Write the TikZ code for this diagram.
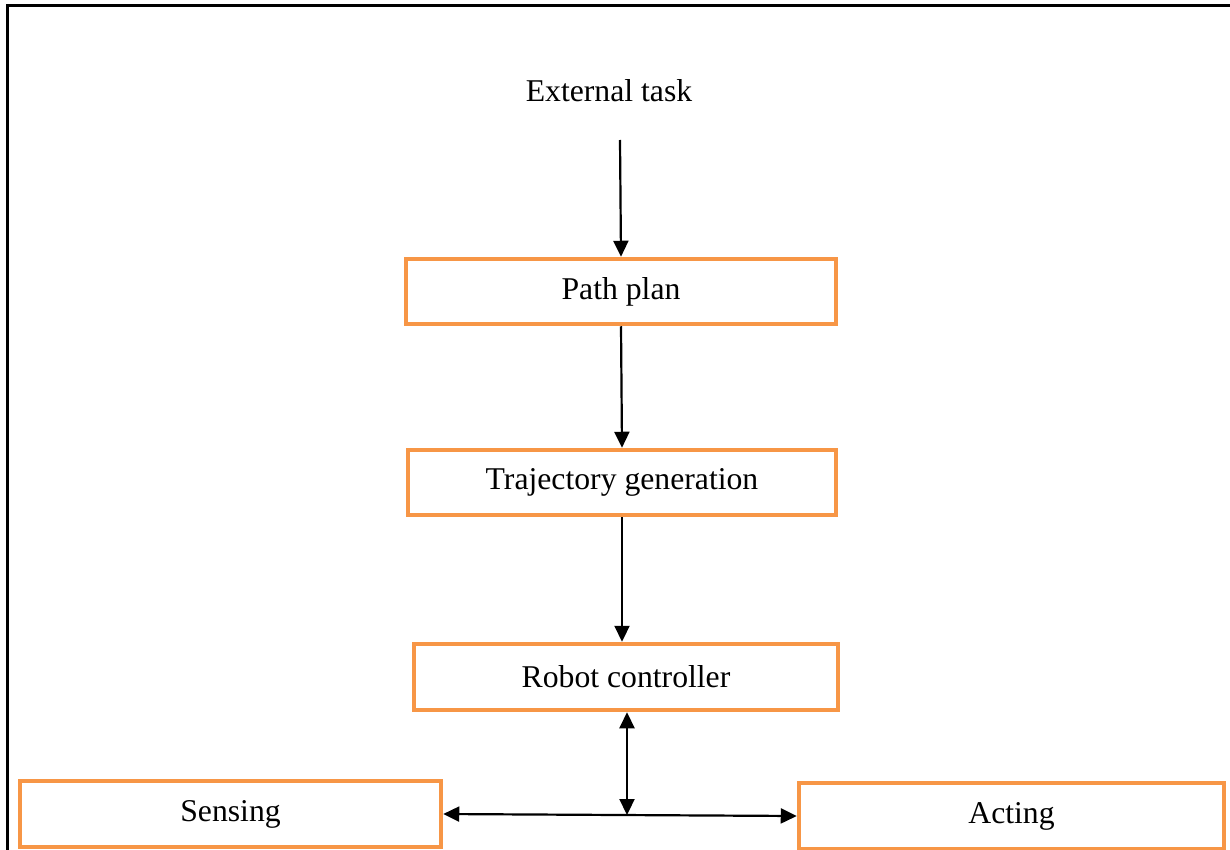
\documentclass[tikz,border=0pt]{standalone}
\usepackage{fontspec}
\setmainfont{Liberation Serif}
\usetikzlibrary{arrows.meta}
\definecolor{boxorange}{HTML}{F79646}
\begin{document}
\begin{tikzpicture}[x=1pt,y=-1pt,
  blk/.style={draw=boxorange,line width=4.5pt,rectangle,inner sep=0pt,font=\fontsize{31.7}{36}\selectfont},
  arr/.style={line width=2.2pt,-{Triangle[length=16pt,width=15pt]}},
  darr/.style={line width=2.2pt,{Triangle[length=16pt,width=15pt]}-{Triangle[length=16pt,width=15pt]}}]
\useasboundingbox (0,0) rectangle (1230,850);
\draw[line width=3pt] (7,851) -- (7,6) -- (1231,6);
\node[font=\fontsize{31.7}{36}\selectfont] (ext) at (609,91) {External task};
\node[blk,minimum width=430pt,minimum height=65pt] (pp) at (621,291.5) {Path plan};
\node[blk,minimum width=428pt,minimum height=65pt] (tg) at (622,482.5) {Trajectory generation};
\node[blk,minimum width=424pt,minimum height=66pt] (rc) at (626,677) {Robot controller};
\node[blk,minimum width=421pt,minimum height=66pt] (se) at (230.5,814) {Sensing};
\node[blk,minimum width=425pt,minimum height=66pt] (ac) at (1011.5,816) {Acting};
\coordinate (e1) at (620,140);
\coordinate (j) at (627,815);
\draw[arr] (e1) -- (pp.north);
\draw[arr] (pp.south) -- (tg.north);
\draw[arr] (tg.south) -- (tg.south |- rc.north);
\draw[darr] (rc.south -| j) -- (j);
\draw[darr] (se.east) -- (ac.west);
\end{tikzpicture}
\end{document}
